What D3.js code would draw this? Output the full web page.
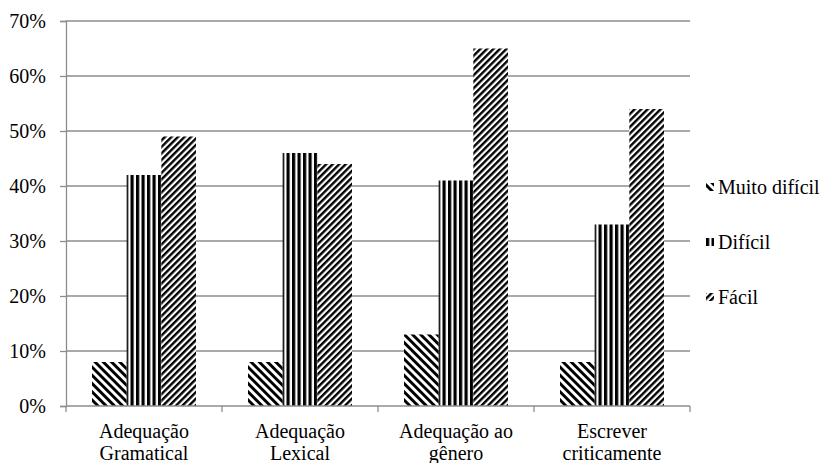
<!DOCTYPE html>
<html>
<head>
<meta charset="utf-8">
<script src="https://cdn.jsdelivr.net/npm/d3@7"></script>
</head>
<body style="margin:0">
<svg id="chart" width="830" height="463" style="font-family: 'Times New Roman', 'Liberation Serif', Tinos;"></svg>
<script>
const categories = [["Adequação", "Gramatical"], ["Adequação", "Lexical"], ["Adequação ao", "gênero"], ["Escrever", "criticamente"]];
const seriesNames = ["Muito difícil", "Difícil", "Fácil"];
const muitoDificil = [0.08, 0.08, 0.13, 0.08];
const dificil = [0.42, 0.46, 0.41, 0.33];
const facil = [0.49, 0.44, 0.65, 0.54];
const yTicks = [0, 0.1, 0.2, 0.3, 0.4, 0.5, 0.6, 0.7];

const seriesValues = [muitoDificil, dificil, facil];
const catKeys = categories.map(c => c.join(" "));

const svg = d3.select("#chart");
const mLeft = 66, mRight = 690, mTop = 21, mBottom = 406;
const FONT = "'Times New Roman', 'Liberation Serif', Tinos";

// patterns
const defs = svg.append("defs");
function stripePattern(id, angle, period, width) {
  const p = defs.append("pattern")
    .attr("id", id)
    .attr("patternUnits", "userSpaceOnUse")
    .attr("width", period).attr("height", period)
    .attr("patternTransform", `rotate(${angle})`);
  p.append("rect").attr("width", period).attr("height", period).attr("fill", "#fff");
  p.append("rect").attr("x", 0).attr("y", 0).attr("width", width).attr("height", period).attr("fill", "#000");
}
stripePattern("pat0", -45, 5.8, 2.9);
stripePattern("pat1", 0, 5.5, 3.2);
stripePattern("pat2", 45, 4.6, 2.4);
const fills = ["url(#pat0)", "url(#pat1)", "url(#pat2)"];

const y = d3.scaleLinear().domain([0, 0.7]).range([mBottom, mTop]);
const x0 = d3.scaleBand().domain(catKeys).range([mLeft, mRight]).paddingInner(1/3).paddingOuter(1/6);
const x1 = d3.scaleBand().domain(seriesNames).range([0, x0.bandwidth()]).padding(0);

// gridlines
svg.append("g").selectAll("line").data(yTicks.filter(t => t > 0)).join("line")
  .attr("x1", mLeft).attr("x2", mRight)
  .attr("y1", d => y(d)).attr("y2", d => y(d))
  .attr("stroke", "#8c8c8c").attr("stroke-width", 1.3);

// bars
const groups = svg.append("g").selectAll("g").data(catKeys).join("g")
  .attr("transform", d => `translate(${x0(d)},0)`);
groups.selectAll("rect").data((d, i) => seriesNames.map((s, j) => ({ s, j, v: seriesValues[j][i] }))).join("rect")
  .attr("x", d => x1(d.s))
  .attr("width", x1.bandwidth())
  .attr("y", d => y(d.v))
  .attr("height", d => mBottom - y(d.v))
  .attr("fill", d => fills[d.j]);

// y axis
const yAxis = svg.append("g").attr("transform", `translate(${mLeft},0)`)
  .call(d3.axisLeft(y).tickValues(yTicks).tickFormat(d3.format(".0%")).tickSize(6).tickPadding(14));
yAxis.attr("font-family", null).attr("font-size", null);
yAxis.select(".domain").attr("stroke", "#8c8c8c").attr("stroke-width", 1.3);
yAxis.selectAll(".tick line").attr("stroke", "#8c8c8c").attr("stroke-width", 1.3);
yAxis.selectAll(".tick text").attr("fill", "#000")
  .attr("font-size", 20)
  .style("font-family", FONT);

// x axis
svg.append("line").attr("x1", mLeft).attr("x2", mRight).attr("y1", mBottom).attr("y2", mBottom)
  .attr("stroke", "#8c8c8c").attr("stroke-width", 1.3);
const boundaries = catKeys.map(k => x0(k) - x0.step() * x0.paddingOuter()).concat([mRight]);
svg.append("g").selectAll("line").data(boundaries).join("line")
  .attr("x1", d => d).attr("x2", d => d).attr("y1", mBottom).attr("y2", mBottom + 6)
  .attr("stroke", "#8c8c8c").attr("stroke-width", 1.3);

// category labels
const labelLines = [];
categories.forEach((c, i) => c.forEach((line, k) => labelLines.push({ line, i, k })));
svg.append("g").selectAll("text").data(labelLines).join("text")
  .attr("text-anchor", "middle")
  .attr("font-size", 20)
  .style("font-family", FONT)
  .attr("fill", "#000")
  .attr("x", d => x0(catKeys[d.i]) + x0.bandwidth() / 2)
  .attr("y", d => 438 + d.k * 22)
  .text(d => d.line);

// legend
const legendY = [187, 242, 297];
const leg = svg.append("g").selectAll("g").data(seriesNames).join("g")
  .attr("transform", (d, i) => `translate(706,${legendY[i]})`);
leg.append("rect").attr("x", 0).attr("y", -4).attr("width", 8).attr("height", 8)
  .attr("fill", (d, i) => fills[i]);
leg.append("text").attr("x", 12).attr("y", 7)
  .attr("font-size", 20)
  .style("font-family", FONT)
  .attr("fill", "#000").text(d => d);
</script>
</body>
</html>
